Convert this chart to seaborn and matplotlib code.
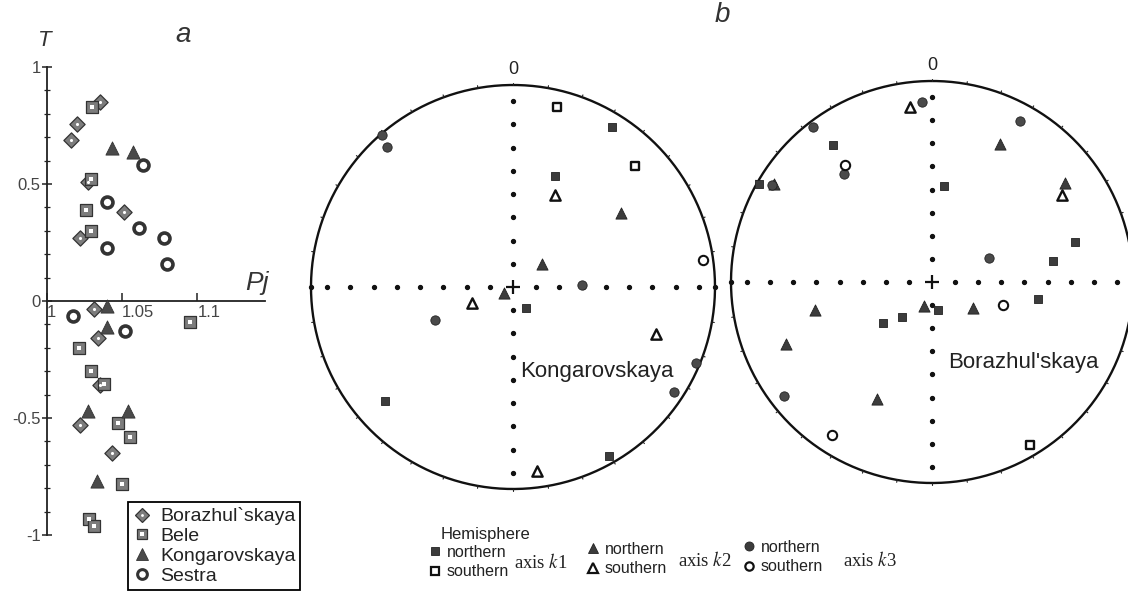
import numpy as np
import matplotlib
matplotlib.use('Agg')
import matplotlib.pyplot as plt
import seaborn as sns
from matplotlib.lines import Line2D

# ---------------- panel a: T vs Pj ----------------
bor_pj = [1.016, 1.020, 1.035, 1.051, 1.027, 1.022, 1.031, 1.034, 1.035, 1.022, 1.043]
bor_T = [0.69, 0.755, 0.85, 0.38, 0.51, 0.27, -0.035, -0.16, -0.36, -0.53, -0.65]

bele_pj = [1.030, 1.029, 1.026, 1.029, 1.095, 1.021, 1.029, 1.038, 1.047, 1.055, 1.050, 1.028, 1.031]
bele_T = [0.83, 0.52, 0.39, 0.30, -0.09, -0.20, -0.30, -0.355, -0.52, -0.58, -0.78, -0.93, -0.96]

kong_pj = [1.043, 1.057, 1.040, 1.040, 1.027, 1.054, 1.033]
kong_T = [0.655, 0.635, -0.02, -0.11, -0.47, -0.47, -0.77]

ses_pj = [1.064, 1.040, 1.061, 1.078, 1.080, 1.040, 1.017, 1.052]
ses_T = [0.58, 0.425, 0.31, 0.27, 0.16, 0.225, -0.065, -0.13]

legend_a = ["Borazhul`skaya", "Bele", "Kongarovskaya", "Sestra"]
yticks_a = [-1, -0.5, 0, 0.5, 1]
ytick_labels_a = ["-1", "-0.5", "0", "0.5", "1"]
xticks_a = [1.0, 1.05, 1.1]
xtick_labels_a = ["1", "1.05", "1.1"]

# ---------------- panel b: stereonets (projected x = east, y = north, unit circle) ----------------
# Kongarovskaya
c1_k1n_x = [0.488, 0.208, 0.064, -0.634, 0.477]
c1_k1n_y = [0.794, 0.550, -0.106, -0.563, -0.835]
c1_k1s_x = [0.216, 0.604]
c1_k1s_y = [0.893, 0.599]
c1_k2n_x = [0.533, 0.145, -0.045]
c1_k2n_y = [0.365, 0.114, -0.028]
c1_k2s_x = [0.208, -0.201, 0.708, 0.117]
c1_k2s_y = [0.455, -0.081, -0.233, -0.909]
c1_k3n_x = [-0.647, -0.622, 0.340, -0.386, 0.906, 0.799]
c1_k3n_y = [0.752, 0.695, 0.010, -0.163, -0.375, -0.518]
c1_k3s_x = [0.939]
c1_k3s_y = [0.134]

# Borazhul'skaya
c2_k1n_x = [-0.493, -0.860, 0.058, 0.712, 0.600, 0.525, 0.028, -0.148, -0.243]
c2_k1n_y = [0.681, 0.490, 0.479, 0.199, 0.104, -0.084, -0.138, -0.174, -0.204]
c2_k1s_x = [0.488]
c2_k1s_y = [-0.809]
c2_k2n_x = [0.340, 0.661, -0.786, -0.038, 0.206, -0.581, -0.724, -0.276]
c2_k2n_y = [0.688, 0.495, 0.490, -0.117, -0.130, -0.138, -0.308, -0.582]
c2_k2s_x = [-0.109, 0.645]
c2_k2s_y = [0.870, 0.433]
c2_k3n_x = [-0.051, 0.439, -0.592, -0.436, -0.794, 0.286, -0.737]
c2_k3n_y = [0.895, 0.803, 0.770, 0.539, 0.484, 0.117, -0.569]
c2_k3s_x = [-0.433, 0.354, -0.498]
c2_k3s_y = [0.582, -0.113, -0.760]

sns.set_style('white')
plt.rcParams['font.family'] = ['Liberation Sans', 'DejaVu Sans']
plt.rcParams['mathtext.fontset'] = 'stix'

W, H = 1128, 592
fig = plt.figure(figsize=(W / 100, H / 100), dpi=100)

# ---------------- panel a ----------------
axa = fig.add_axes([47 / W, 1 - 535 / H, 218 / W, 468 / H])
axa.set_xlim(1.0, 1.145)
axa.set_ylim(-1.0, 1.0)
axa.patch.set_alpha(0)
for s in ['top', 'right']:
    axa.spines[s].set_visible(False)
axa.spines['bottom'].set_position(('data', 0))
for s in ['left', 'bottom']:
    axa.spines[s].set_color('#222')
    axa.spines[s].set_linewidth(1.3)

gray = '#7c7c7c'
dark = '#4a4a4a'
sns.scatterplot(x=bor_pj, y=bor_T, ax=axa, marker='D', s=60, color=gray,
                edgecolor='#333', linewidth=0.9, zorder=3, clip_on=False)
sns.scatterplot(x=bor_pj, y=bor_T, ax=axa, marker='o', s=5, color='white',
                linewidth=0, zorder=4, clip_on=False)
sns.scatterplot(x=bele_pj, y=bele_T, ax=axa, marker='s', s=68, color=gray,
                edgecolor='#333', linewidth=0.9, zorder=3, clip_on=False)
sns.scatterplot(x=bele_pj, y=bele_T, ax=axa, marker='s', s=6, color='white',
                linewidth=0, zorder=4, clip_on=False)
sns.scatterplot(x=kong_pj, y=kong_T, ax=axa, marker='^', s=90, color=dark,
                edgecolor='#333', linewidth=0.6, zorder=3, clip_on=False)
sns.scatterplot(x=ses_pj, y=ses_T, ax=axa, marker='o', s=62, color='white',
                edgecolor='#333', linewidth=2.6, zorder=3, clip_on=False)

axa.set_yticks(yticks_a)
axa.set_yticklabels(ytick_labels_a)
axa.set_yticks(np.arange(-1.0, 1.01, 0.1), minor=True)
axa.set_xticks(xticks_a)
axa.set_xticklabels(xtick_labels_a)
axa.tick_params(axis='y', which='major', left=True, direction='inout', length=7,
                width=1.1, color='#222', labelsize=12, labelcolor='#444', pad=1)
axa.tick_params(axis='y', which='minor', left=True, direction='inout', length=4,
                width=0.9, color='#222')
axa.tick_params(axis='x', which='major', bottom=True, direction='in', length=6,
                width=1.1, color='#222', labelsize=12, labelcolor='#444', pad=3)
for lab in axa.get_xticklabels():
    lab.set_horizontalalignment('left')

fig.text(45 / W, 1 - 40 / H, 'T', fontsize=16, style='italic', ha='center', va='center', color='#333')
fig.text(257 / W, 1 - 283 / H, 'Pj', fontsize=19, style='italic', ha='center', va='center', color='#333')
fig.text(183 / W, 1 - 35 / H, 'a', fontsize=20, style='italic', ha='center', va='center', color='#333')

h_bor = (Line2D([], [], ls='none', marker='D', ms=7, mfc=gray, mec='#333', mew=0.9),
         Line2D([], [], ls='none', marker='o', ms=2, mfc='white', mew=0))
h_bele = (Line2D([], [], ls='none', marker='s', ms=7.5, mfc=gray, mec='#333', mew=0.9),
          Line2D([], [], ls='none', marker='s', ms=2.2, mfc='white', mew=0))
h_kong = Line2D([], [], ls='none', marker='^', ms=8.5, mfc=dark, mec='#333', mew=0.6)
h_ses = Line2D([], [], ls='none', marker='o', ms=7, mfc='white', mec='#333', mew=2.2)
leg_a = axa.legend([h_bor, h_bele, h_kong, h_ses], legend_a, loc='lower left',
                   bbox_to_anchor=(128 / W, 2 / H), bbox_transform=fig.transFigure,
                   frameon=True, fancybox=False, edgecolor='black', framealpha=1,
                   fontsize=14, handlelength=0.9, handletextpad=0.5, labelspacing=0.12,
                   borderpad=0.25, borderaxespad=0)
leg_a.get_frame().set_linewidth(1.3)
for t in leg_a.get_texts():
    t.set_color('#222')

# ---------------- panel b ----------------
def stereo_axes(cx, cy, R, label, lx, ly):
    half = 1.1 * R
    ax = fig.add_axes([(cx - half) / W, 1 - (cy + half) / H, 2 * half / W, 2 * half / H])
    ax.set_xlim(-1.1, 1.1)
    ax.set_ylim(-1.1, 1.1)
    ax.axis('off')
    t = np.linspace(0, 2 * np.pi, 500)
    ax.plot(np.cos(t), np.sin(t), color='#111', lw=1.7, zorder=2)
    for a in np.deg2rad(np.arange(0, 360, 10)):
        ax.plot([0.998 * np.cos(a), 1.012 * np.cos(a)], [0.998 * np.sin(a), 1.012 * np.sin(a)],
                color='#222', lw=0.8, zorder=2)
    k = np.concatenate([-np.arange(1, 9), np.arange(1, 9)]) * 0.115
    ax.plot(k, np.zeros_like(k), ls='none', marker='o', ms=2.8, color='#111', zorder=2)
    ax.plot(np.zeros_like(k), k, ls='none', marker='o', ms=2.8, color='#111', zorder=2)
    ax.plot([-1, 1], [0, 0], ls='none', marker='o', ms=2.8, color='#111', zorder=2)
    ax.plot(0, 0, marker='+', ms=10, mew=1.6, color='#111', zorder=2)
    ax.text(0, 1.035, '0', ha='center', va='bottom', fontsize=13, color='#222')
    ax.text(lx, ly, label, ha='left', va='center', fontsize=16, color='#222')
    return ax


def draw_groups(ax, k1n, k1s, k2n, k2s, k3n, k3s):
    fill = '#3c3c3c'
    sns.scatterplot(x=k1n[0], y=k1n[1], ax=ax, marker='s', s=40, color=fill,
                    edgecolor='#222', linewidth=0.6, zorder=4, clip_on=False)
    sns.scatterplot(x=k1s[0], y=k1s[1], ax=ax, marker='s', s=36, color='white',
                    edgecolor='#111', linewidth=1.7, zorder=4, clip_on=False)
    sns.scatterplot(x=k2n[0], y=k2n[1], ax=ax, marker='^', s=65, color=fill,
                    edgecolor='#222', linewidth=0.6, zorder=4, clip_on=False)
    sns.scatterplot(x=k2s[0], y=k2s[1], ax=ax, marker='^', s=55, color='white',
                    edgecolor='#111', linewidth=1.7, zorder=4, clip_on=False)
    sns.scatterplot(x=k3n[0], y=k3n[1], ax=ax, marker='o', s=45, color='#4a4a4a',
                    edgecolor='#222', linewidth=0.6, zorder=4, clip_on=False)
    sns.scatterplot(x=k3s[0], y=k3s[1], ax=ax, marker='o', s=45, color='white',
                    edgecolor='#111', linewidth=1.5, zorder=4, clip_on=False)


ax1 = stereo_axes(513, 287, 202, 'Kongarovskaya', 0.035, -0.42)
draw_groups(ax1, (c1_k1n_x, c1_k1n_y), (c1_k1s_x, c1_k1s_y), (c1_k2n_x, c1_k2n_y),
            (c1_k2s_x, c1_k2s_y), (c1_k3n_x, c1_k3n_y), (c1_k3s_x, c1_k3s_y))
ax2 = stereo_axes(932, 282, 201, "Borazhul'skaya", 0.08, -0.40)
draw_groups(ax2, (c2_k1n_x, c2_k1n_y), (c2_k1s_x, c2_k1s_y), (c2_k2n_x, c2_k2n_y),
            (c2_k2s_x, c2_k2s_y), (c2_k3n_x, c2_k3n_y), (c2_k3s_x, c2_k3s_y))

fig.text(722 / W, 1 - 15 / H, 'b', fontsize=20, style='italic', ha='center', va='center', color='#333')

# bottom legend
fig.text(441 / W, 1 - 535 / H, 'Hemisphere', fontsize=12, ha='left', va='center', color='#222')
leg_kw = dict(frameon=False, handlelength=0.7, handletextpad=0.4,
              labelspacing=0.28, borderpad=0, borderaxespad=0, loc='upper left',
              prop={'family': ['Liberation Sans', 'DejaVu Sans'], 'size': 11.5})
groups = [
    ('s', (429, 545), 'axis $k$1', (514, 563), 6.2),
    ('^', (587, 542), 'axis $k$2', (678, 561), 7.5),
    ('o', (743, 540), 'axis $k$3', (843, 560), 6.5),
]
for mk, (bx, by), alab, (ax_, ay_), ms in groups:
    hn = Line2D([], [], ls='none', marker=mk, ms=ms, mfc='#3c3c3c', mec='#222', mew=0.6)
    hs = Line2D([], [], ls='none', marker=mk, ms=ms - 0.5, mfc='white', mec='#111', mew=1.6)
    lg = fig.legend([hn, hs], ['northern', 'southern'], bbox_to_anchor=(bx / W, 1 - by / H), **leg_kw)
    for t in lg.get_texts():
        t.set_color('#222')
    fig.text(ax_ / W, 1 - ay_ / H, alab, fontsize=13.5, ha='left', va='center',
             family=['Liberation Serif', 'DejaVu Serif'], color='#222')

fig.savefig('out.png', dpi=100)
